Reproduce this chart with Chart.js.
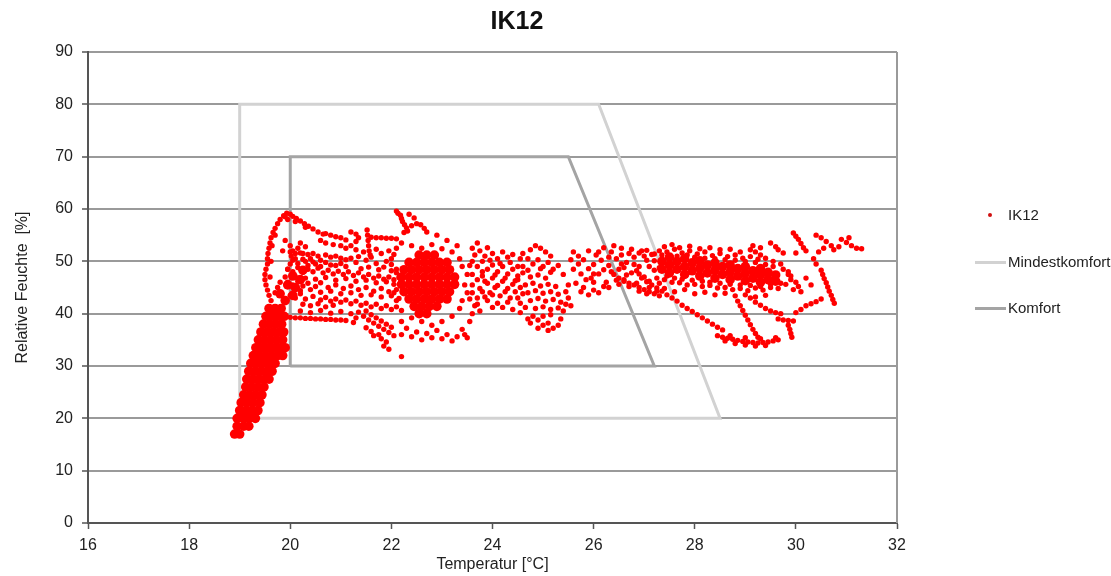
<!DOCTYPE html>
<html>
<head>
<meta charset="utf-8">
<title>IK12</title>
<script src="https://cdn.jsdelivr.net/npm/chart.js@4.4.1/dist/chart.umd.min.js"></script>
<style>
    body { margin: 0; background: #fff; }
    #wrap { position: relative; width: 1111px; height: 576px; }
    #chart { position: absolute; left: 0; top: 0; }
    .legend { position: absolute; left: 975px; top: 0; font: 15px "Liberation Sans", Arial, sans-serif; color: #222; }
    .legend .row { position: absolute; left: 0; height: 18px; width: 140px; }
    .legend .key { position: absolute; left: 0; top: 8px; width: 31px; height: 3px; }
    .legend .dot { position: absolute; left: 13px; top: 7px; width: 4px; height: 4px; border-radius: 2px; background: #d01010; }
    .legend .txt { position: absolute; left: 33px; top: 0; line-height: 18px; white-space: nowrap; }
</style>
</head>
<body>
<div id="wrap">
    <canvas id="chart" width="1111" height="576"></canvas>
    <div class="legend">
        <div class="row" style="top:206px"><span class="dot"></span><span class="txt">IK12</span></div>
        <div class="row" style="top:253px"><span class="key" style="background:#d2d2d2"></span><span class="txt">Mindestkomfort</span></div>
        <div class="row" style="top:299px"><span class="key" style="background:#a4a4a4"></span><span class="txt">Komfort</span></div>
    </div>
</div>
<script>
// comfort zones (temperature / relative humidity corners)
const mindestX = [19, 19, 26.1, 28.5, 19];
const mindestY = [20, 80, 80, 20, 20];
const komfortX = [20, 20, 25.5, 27.2, 20];
const komfortY = [30, 70, 70, 30, 30];

const xTicks = [16, 18, 20, 22, 24, 26, 28, 30, 32];
const yTicks = [0, 10, 20, 30, 40, 50, 60, 70, 80, 90];

// measured values, [temperature, humidity]
const loopPts = [
    [19.62,42.5],[19.58,43.5],[19.55,44.5],[19.52,45.5],[19.5,46.5],[19.5,47.5],[19.52,48.5],[19.55,49.5],
    [19.55,50.5],[19.56,51.5],[19.58,52.5],[19.6,53.5],[19.62,54.5],[19.66,55.5],[19.7,56.3],[19.75,57.2],
    [19.8,58],[19.87,58.7],[19.93,59.2],[20.0,59.0],[20.05,58.6],[20.12,58.2],[20.2,57.7],[20.28,57.2],
    [20.36,56.7],[20.45,56.2],[20.55,55.6],[20.65,55.2],[19.6,47],[19.62,50],[19.64,53],[19.7,55],
    [19.9,58.5],[19.95,58],[20.1,57.6],[20.3,56.5],[20.0,53],[20.05,52],[20.02,51],[20.1,50.5],
    [20.15,52.5],[20.2,53.5],[20.3,52.8],[20.25,51.5],[19.9,54],[19.85,52],[20.0,49.5],[19.95,48.5],
    [19.9,47],[19.8,46],[19.75,45],[19.7,44],[20.7,55.3],[20.8,55.0],[20.9,54.7],[21.0,54.5],
    [21.1,54.1],[20.6,54.0],[20.7,53.5],[20.85,53.2],[21.0,53.0],[21.2,55.6],[21.3,55.2],[21.35,54.5],
    [21.3,53.8],[21.6,54.6],[21.7,54.5],[21.8,54.5],[21.9,54.4],[22.0,54.4],[22.1,54.3],[21.52,56],
    [21.53,55],[21.54,54],[21.55,53],[21.56,52],[21.58,51.2],[22.1,59.6],[22.13,59.2],[22.18,58.8],
    [22.2,58.2],[22.22,57.6],[22.26,57],[22.3,56.4],[22.32,55.8],[22.25,55.5],[22.4,56.8],[22.5,57.2],
    [22.58,57],[22.65,56.3],[22.7,55.6],[22.35,59],[22.45,58.3]
];

const band20to22 = [
    [20.0,51.8],[20.1,51.5],[20.2,51.6],[20.35,51.3],[20.45,51.5],[20.55,51.0],[20.7,51.2],[20.8,50.8],
    [20.9,51.0],[21.0,50.6],[21.1,50.3],[20.4,50.5],[20.6,50.2],[20.3,50.0],[19.95,48.5],[20.05,48.0],
    [20.15,48.8],[20.25,47.9],[20.35,48.5],[20.45,48.0],[20.55,48.7],[20.65,47.8],[20.75,48.3],[20.85,47.6],
    [20.95,48.1],[21.05,47.5],[21.15,48.0],[21.25,47.3],[21.35,47.8],[21.45,47.0],[21.55,47.5],[21.65,46.8],
    [21.75,47.2],[21.85,46.6],[21.95,47.0],[22.05,46.5],[22.15,46.9],[19.95,46],[20.05,45.5],[20.15,46.2],
    [20.25,45.3],[20.35,45.8],[20.5,45.2],[20.6,45.9],[20.75,45.0],[20.9,45.5],[21.05,44.8],[21.2,45.3],
    [21.35,44.6],[21.5,45.0],[21.65,44.3],[21.8,44.8],[21.95,44.2],[22.1,44.6],[20.0,43.5],[20.1,43.0],
    [20.2,43.8],[20.3,42.8],[20.45,43.3],[20.6,42.6],[20.7,43.1],[20.8,42.4],[20.9,42.8],[21.0,42.2],
    [21.1,42.6],[21.2,41.9],[21.3,42.4],[21.4,41.6],[21.5,42.0],[21.6,41.3],[21.7,41.8],[21.8,41.0],
    [21.9,41.5],[22.0,40.8],[22.1,41.3],[22.2,40.6],[20.0,39.3],[20.1,39.2],[20.2,39.2],[20.3,39.1],
    [20.4,39.1],[20.5,39.0],[20.6,39.0],[20.7,38.9],[20.8,38.9],[20.9,38.8],[21.0,38.8],[21.1,38.7],
    [21.35,40.3],[21.45,39.5],[21.5,40.5],[21.55,38.8],[21.6,39.8],[21.65,38.2],[21.7,39.2],[21.75,37.6],
    [21.8,38.6],[21.85,37.0],[21.9,38.0],[21.95,36.4],[22.0,37.4],[21.75,36.0],[21.8,35.2],[21.9,34.6],
    [21.85,33.8],[21.95,33.2],[22.05,35.8],[22.2,31.8],[20.5,49.5],[20.8,49.3],[21.0,49.6],[21.3,49.8],
    [21.5,50.2],[21.7,49.6],[21.9,50.0],[22.0,49.4],[21.1,52.5],[21.2,53.0],[21.3,52.2],[21.45,51.8],
    [21.7,52.3],[21.8,51.5],[21.95,52.0],[22.05,51.3],
    [20.05,50.2],[20.15,49.6],[20.25,50.4],[20.35,49.2],[20.45,49.9],[20.6,49.0],[20.7,49.8],[20.9,49.2],
    [21.1,49.0],[21.2,50.6],[21.35,50.9],[21.4,48.6],[21.55,48.9],[21.6,50.8],[21.75,48.4],[21.85,48.9],
    [22.0,48.2],[22.1,47.8],[20.1,47.0],[20.3,46.8],[20.5,46.6],[20.7,46.9],[20.9,46.4],[21.1,46.7],
    [21.3,46.2],[21.5,46.4],[21.7,45.9],[21.9,46.1],[22.05,45.6],[20.2,44.4],[20.4,44.6],[20.6,44.1],
    [20.8,44.3],[21.0,43.8],[21.2,44.0],[21.4,43.5],[21.6,43.6],[21.8,43.2],[22.0,43.4],[22.15,42.9],
    [20.25,41.8],[20.4,41.5],[20.55,41.9],[20.7,41.3],[20.85,41.6],[20.2,40.5],[20.4,40.2],[20.6,40.6],
    [20.8,40.1],[21.0,40.4],[21.2,40.0],[21.3,39.2],[21.25,38.3],[21.5,37.3],[21.6,36.6],[21.65,35.8]
];

const cluster22to24 = [
    [22.0,50.5],[22.1,52.5],[22.2,53.5],[22.4,53.0],[22.6,52.5],[22.8,53.2],[23.0,52.4],[23.2,51.8],
    [23.35,50.5],[23.4,49.0],[23.5,47.5],[23.45,45.5],[23.5,44],[23.4,42.5],[23.35,41],[23.2,39.5],
    [23.0,38.5],[22.8,37.8],[22.6,38.5],[22.4,39.2],[22.2,38.5],[22.3,37.2],[22.5,36.5],[22.7,36.2],
    [22.9,36.8],[23.1,36.0],[23.3,35.6],[23.4,37.0],[22.1,42.5],[22.05,44],[22.1,48.5],[23.55,38.5],
    [23.6,40],[23.3,53],[23.1,54.0],[22.9,55.0],[23.6,52.5],[23.7,53.5],[23.75,52.0],[23.85,51.0],
    [23.9,52.6],[24.0,51.5],[24.1,50.5],[24.2,51.8],[24.3,50.8],[24.4,51.3],[23.6,50.0],[23.7,49.0],
    [23.8,50.0],[23.9,48.5],[24.0,49.3],[24.1,48.0],[24.2,49.0],[24.3,47.6],[24.4,48.5],[24.5,47.2],
    [23.6,47.5],[23.7,46.5],[23.8,47.2],[23.9,45.8],[24.0,46.8],[24.1,45.4],[24.2,46.2],[24.3,44.8],
    [24.4,45.6],[23.6,44.0],[23.7,43.0],[23.8,44.2],[23.9,42.5],[24.0,43.6],[24.1,42.0],[24.2,41.2],
    [23.65,41.5],[23.75,40.5],[24.55,50.5],[24.6,49.0],
    [23.55,49.2],[23.65,51.2],[23.8,48.0],[23.95,50.2],[24.05,47.4],[24.15,49.6],[24.25,46.8],[24.35,49.8],
    [24.45,46.3],[24.5,49.0],[23.6,45.5],[23.75,44.8],[23.85,46.2],[23.95,44.0],[24.05,45.0],[24.15,43.4],
    [24.25,44.2],[24.35,43.0],[24.45,44.2],[24.55,42.0],[24.6,47.8],[23.55,42.8],[23.7,41.8],[23.85,43.2],
    [24.0,41.2],[24.3,42.2],[24.4,40.8],[24.55,40.2],[24.65,41.2],[24.7,39.0],[24.75,38.2],[24.9,37.2],
    [25.1,36.8],[22.2,36.0],[22.4,35.6],[22.6,35.0],[22.8,35.4],[23.0,35.2],[23.2,34.8],[23.45,36.0],
    [23.5,35.4]
];

const cluster25 = [
    [24.6,51.5],[24.75,52.2],[24.85,53.0],[24.95,52.5],[25.05,51.8],[25.15,51.0],[24.7,50.5],[24.8,49.5],
    [24.9,50.3],[25.0,49.0],[25.1,49.8],[25.2,48.5],[25.3,49.2],[24.5,46.5],[24.55,45.0],[24.6,43.8],
    [24.5,43.0],[25.4,47.5],[25.5,45.5],[25.45,44.2],[25.5,43.0],[25.45,41.8],[25.4,40.5],[25.35,39.0],
    [25.3,37.8],[25.2,37.2],[25.1,38.2],[25.0,37.8],[24.9,38.8],[24.8,39.5],[25.55,41.5],[24.75,47],
    [24.9,47.4],[25.05,46.8],[24.65,45.5],[24.8,45.8],[24.95,45.3],[25.1,45.6],[25.25,45.2],[24.7,44],
    [24.85,44.4],[25.0,43.9],[25.15,44.2],[25.3,43.7],[24.75,42.5],[24.9,42.9],[25.05,42.4],[25.2,42.7],
    [25.35,42.2],[24.85,41],[25.0,41.3],[25.15,40.8],[25.3,41.1],[25.0,39.5],[25.15,39.8],[24.7,48.3],
    [24.95,48.6],[25.15,47.9]
];

const band25to27 = [
    [25.6,48.5],[25.7,49.5],[25.75,47.6],[25.8,50.3],[25.9,48.6],[25.95,46.8],[26.0,49.4],[26.05,51.2],
    [26.1,47.6],[26.15,50.2],[26.2,48.4],[26.25,46.0],[26.3,49.2],[26.35,51.8],[26.4,47.5],[26.45,50.5],
    [26.5,48.5],[26.55,52.5],[26.6,46.5],[26.65,49.8],[26.7,51.5],[26.75,47.8],[26.8,50.8],[26.85,45.8],
    [26.9,49.0],[26.95,52.0],[27.0,47.0],[27.05,50.2],[27.1,45.0],[27.15,51.3],[27.2,48.3],[27.25,44.3],
    [26.7,45.2],[26.9,44.3],[27.05,43.8],[26.5,45.6],[26.3,45.0],[25.65,45.8],[25.8,45.0],[26.0,44.5],
    [25.6,51.8],[25.9,52.0],[26.2,52.6],[26.4,53.0],[26.0,46.0],[26.5,46.8],[26.6,46.2],[26.7,45.8],
    [26.8,45.5],[26.9,45.0],[27.0,44.6],[27.1,44.2],[27.2,43.8],[27.3,43.4],[26.55,51.2],[26.75,52.3],
    [26.9,51.6],[27.05,52.1],[27.2,51.4],[26.35,48.0],[26.6,48.8],[26.85,48.2],[27.1,49.0],
    [25.55,50.3],[25.7,51.0],[25.85,46.5],[26.0,47.6],[26.1,51.8],[26.2,45.2],[26.3,50.8],[26.45,46.4],
    [26.55,49.5],[26.65,47.4],[26.8,49.4],[26.9,47.6],[27.0,51.0],[27.1,46.2],[27.2,50.1],[27.25,46.8],
    [27.3,48.8],[25.75,44.2],[25.9,43.6],[26.1,44.0]
];

const band27to30 = [
    [27.3,52.0],[27.45,51.8],[27.6,52.3],[27.75,51.6],[27.9,52.0],[28.05,51.4],[28.2,51.8],[28.35,51.1],
    [28.5,51.5],[28.65,50.9],[28.8,51.2],[28.95,50.6],[29.1,50.9],[29.25,50.4],[29.4,50.6],[29.55,50.0],
    [29.7,49.5],[27.4,46.5],[27.55,46.0],[27.7,45.9],[27.85,45.5],[28.0,45.6],[28.15,45.2],[28.3,45.4],
    [28.45,44.9],[28.6,45.0],[28.75,44.6],[28.9,44.8],[29.05,44.4],[29.2,44.9],[29.35,44.5],[29.5,45.0],
    [29.65,44.8],[29.8,45.6],[29.9,46.5],[29.85,47.5],[30.0,46.0],[30.05,45.2],
    [27.35,51.2],[27.45,47.2],[27.6,46.8],[27.65,51.0],[27.75,46.6],[27.85,51.2],[27.95,46.4],[28.0,50.8],
    [28.15,46.2],[28.2,50.6],[28.3,46.0],[28.4,50.5],[28.5,45.8],[28.6,50.3],[28.7,45.6],[28.8,50.2],
    [28.9,45.5],[29.0,50.0],[29.1,45.4],[29.2,49.8],[29.3,45.2],[29.4,49.4],[29.5,45.6],[29.55,49.0],
    [29.7,45.8],[29.75,48.5],[29.85,48.0],[29.9,47.2],[29.95,44.6],[30.1,44.2],[30.2,46.8],[30.3,45.5],
    [27.3,45.8],[27.4,44.8],[27.6,44.2],[27.8,44.6],[28.0,43.8],[28.2,44.1],[28.4,43.6],[28.6,43.9],
    [28.8,43.4],[29.0,43.6],[29.2,43.2],[29.4,43.5],[27.4,52.8],[27.55,53.2],[27.7,52.6],[27.9,52.9],
    [28.1,52.4],[28.3,52.6],[28.5,52.2],[28.7,52.3],[28.9,51.8],[29.15,53.0],[29.3,52.6]
];

const trailsRight = [
    [26.95,46.8],[27.05,46.1],[27.15,45.5],[27.25,44.9],[27.35,44.3],[27.45,43.6],[27.55,43.0],[27.65,42.4],
    [27.75,41.6],[27.85,41.0],[27.95,40.4],[28.05,39.8],[28.15,39.2],[28.25,38.6],[28.35,38.0],[28.45,37.4],
    [28.55,36.9],[28.45,35.8],[28.55,35.5],[28.65,35.3],[28.75,35.1],[28.85,34.9],[28.95,34.7],[29.05,34.6],
    [29.15,34.5],[29.25,34.4],[29.35,34.5],[29.45,34.6],[29.55,34.8],[29.65,35.0],[28.6,34.8],[28.8,34.3],
    [29.0,34.0],[29.2,33.8],[29.4,33.9],[28.7,35.8],[29.0,35.4],[29.3,35.2],[29.6,35.4],[28.85,42.4],
    [28.9,41.5],[28.95,40.6],[29.0,39.7],[29.05,38.8],[29.1,37.9],[29.15,37.0],[29.2,36.2],[29.25,35.5],
    [29.1,43.0],[29.2,42.2],[29.3,41.6],[29.4,41.0],[29.5,40.5],[29.6,40.2],[29.7,40.0],[29.65,39.0],
    [29.75,38.8],[29.85,38.7],[29.95,38.6],[29.85,37.8],[29.88,37.0],[29.9,36.2],[29.92,35.5],[30.0,40.2],
    [30.1,40.8],[30.2,41.5],[30.3,41.9],[30.4,42.3],[30.5,42.8],[30.5,48.3],[30.53,47.5],[30.56,46.7],
    [30.6,45.9],[30.63,45.1],[30.66,44.3],[30.7,43.5],[30.73,42.7],[30.76,42.0],[29.1,52.2],[29.2,51.8],
    [29.3,51.2],[29.5,53.5],[29.6,52.8],[29.65,52.2],[29.75,51.6],[29.95,55.4],[30.0,54.8],[30.05,54.2],
    [30.1,53.4],[30.15,52.6],[30.0,51.6],[30.2,52.0],[30.4,55.0],[30.5,54.5],[30.6,53.8],[30.7,53.0],
    [30.75,52.2],[30.55,52.5],[30.45,51.8],[30.9,54.2],[31.0,53.6],[31.1,53.0],[31.2,52.5],[31.3,52.4],
    [31.05,54.5],[30.85,52.8],[30.35,50.5],[30.4,49.5]
];

// tightly packed stretches of the series (dots merge into solid areas)
const denseLeft = [
    [18.9,17],[19.0,17],[18.95,18.5],[19.08,18.5],[19.18,18.5],[18.95,20],[19.07,20],[19.19,20],[19.31,20],
    [19.0,21.5],[19.12,21.5],[19.24,21.5],[19.36,21.5],[19.03,23],[19.15,23],[19.27,23],[19.4,23],
    [19.08,24.5],[19.2,24.5],[19.32,24.5],[19.44,24.5],[19.12,26],[19.24,26],[19.36,26],[19.48,26],
    [19.14,27.5],[19.26,27.5],[19.38,27.5],[19.5,27.5],[19.58,27.5],[19.18,29],[19.3,29],[19.42,29],
    [19.54,29],[19.64,29],[19.22,30.5],[19.34,30.5],[19.46,30.5],[19.58,30.5],[19.7,30.5],[19.27,32],
    [19.39,32],[19.51,32],[19.63,32],[19.75,32],[19.85,32],[19.32,33.5],[19.44,33.5],[19.56,33.5],
    [19.68,33.5],[19.8,33.5],[19.9,33.5],[19.37,35],[19.49,35],[19.61,35],[19.73,35],[19.85,35],
    [19.42,36.5],[19.54,36.5],[19.66,36.5],[19.78,36.5],[19.87,36.5],[19.47,38],[19.59,38],[19.71,38],
    [19.83,38],[19.52,39.5],[19.64,39.5],[19.76,39.5],[19.88,39.5],[19.58,41],[19.7,41],[19.82,41],
    [19.9,42.5],[20.05,43.5],[19.8,43.8],[20.1,45.0],[19.95,45.5],[20.2,46.5],[20.05,47.2],[20.25,48.3]
];

const denseCentre = [
    [22.55,51.2],[22.7,51.2],[22.85,51.2],
    [22.35,49.8],[22.5,49.8],[22.65,49.8],[22.8,49.8],[22.95,49.8],[23.1,49.8],
    [22.25,48.4],[22.4,48.4],[22.55,48.4],[22.7,48.4],[22.85,48.4],[23.0,48.4],[23.15,48.4],
    [22.2,47],[22.35,47],[22.5,47],[22.65,47],[22.8,47],[22.95,47],[23.1,47],[23.25,47],
    [22.2,45.6],[22.35,45.6],[22.5,45.6],[22.65,45.6],[22.8,45.6],[22.95,45.6],[23.1,45.6],[23.25,45.6],
    [22.25,44.2],[22.4,44.2],[22.55,44.2],[22.7,44.2],[22.85,44.2],[23.0,44.2],[23.15,44.2],
    [22.35,42.8],[22.5,42.8],[22.65,42.8],[22.8,42.8],[22.95,42.8],[23.1,42.8],
    [22.45,41.4],[22.6,41.4],[22.75,41.4],[22.9,41.4],[22.55,40],[22.7,40]
];

const denseRight = [
    [27.35,48.5],[27.35,50.0],[27.5,47.8],[27.5,49.3],[27.5,50.8],[27.65,48.5],[27.65,50.0],
    [27.8,47.5],[27.8,49.0],[27.8,50.5],[27.95,48.2],[27.95,49.7],[28.1,47.2],[28.1,48.7],[28.1,50.1],
    [28.25,47.8],[28.25,49.3],[28.4,46.8],[28.4,48.3],[28.4,49.7],[28.55,47.5],[28.55,49.0],
    [28.7,46.5],[28.7,48.0],[28.7,49.3],[28.85,47.2],[28.85,48.6],[29.0,46.3],[29.0,47.7],[29.0,49.0],
    [29.15,46.8],[29.15,48.2],[29.3,46.0],[29.3,47.4],[29.3,48.6],[29.45,46.5],[29.45,47.9],
    [29.6,46.2],[29.6,47.4]
];

const toXY = pts => pts.map(p => ({ x: p[0], y: p[1] }));
const zoneLine = (xs, ys) => xs.map((x, i) => ({ x: x, y: ys[i] }));

const measured = [].concat(loopPts, band20to22, cluster22to24, cluster25, band25to27, band27to30, trailsRight);
const dense = [].concat(denseLeft, denseCentre, denseRight);

const FONT = '"Liberation Sans", Arial, sans-serif';

// right-hand frame of the plot area
const frameRight = {
    id: 'frameRight',
    beforeDatasetsDraw(chart) {
        const a = chart.chartArea, ctx = chart.ctx;
        ctx.save();
        ctx.strokeStyle = '#9a9a9a';
        ctx.lineWidth = 2;
        ctx.beginPath();
        ctx.moveTo(a.right, a.top);
        ctx.lineTo(a.right, a.bottom);
        ctx.stroke();
        ctx.restore();
    }
};

new Chart(document.getElementById('chart'), {
    type: 'scatter',
    data: {
        datasets: [
            {
                label: 'IK12',
                data: toXY(measured),
                backgroundColor: '#ff0000',
                borderWidth: 0,
                pointRadius: 2.7,
                order: 0
            },
            {
                label: 'IK12 dicht',
                data: toXY(dense),
                backgroundColor: '#ff0000',
                borderWidth: 0,
                pointRadius: 4.8,
                order: 0
            },
            {
                label: 'Mindestkomfort',
                data: zoneLine(mindestX, mindestY),
                showLine: true,
                borderColor: '#d2d2d2',
                borderWidth: 3,
                pointRadius: 0,
                order: 2
            },
            {
                label: 'Komfort',
                data: zoneLine(komfortX, komfortY),
                showLine: true,
                borderColor: '#a4a4a4',
                borderWidth: 3,
                pointRadius: 0,
                order: 1
            }
        ]
    },
    options: {
        responsive: false,
        animation: false,
        layout: { padding: { left: 0, right: 77, top: 0, bottom: 0 } },
        plugins: {
            legend: { display: false },
            tooltip: { enabled: false },
            title: {
                display: true,
                text: 'IK12',
                color: '#111',
                font: { family: FONT, size: 25, weight: 'bold' },
                padding: { top: 7, bottom: 15 }
            }
        },
        scales: {
            x: {
                type: 'linear',
                min: 16,
                max: 32,
                afterBuildTicks: s => { s.ticks = xTicks.map(v => ({ value: v })); },
                afterFit: s => { s.height = 53; },
                ticks: { color: '#222', padding: 7, font: { family: FONT, size: 16 } },
                grid: { drawOnChartArea: false, tickLength: 6, tickColor: '#555', tickWidth: 1.5 },
                border: { color: '#555', width: 2 },
                title: {
                    display: true,
                    text: 'Temperatur [°C]',
                    color: '#222',
                    font: { family: FONT, size: 16 },
                    padding: { top: 0, bottom: 2 }
                }
            },
            y: {
                min: 0,
                max: 90,
                afterBuildTicks: s => { s.ticks = yTicks.map(v => ({ value: v })); },
                afterFit: s => { s.width = 88; },
                ticks: { color: '#222', padding: 9, font: { family: FONT, size: 16 } },
                grid: { color: '#9a9a9a', lineWidth: 2, tickLength: 6, tickColor: '#555', tickWidth: 1.5 },
                border: { color: '#555', width: 2 },
                title: {
                    display: true,
                    text: 'Relative Feuchte  [%]',
                    color: '#222',
                    font: { family: FONT, size: 16 },
                    padding: { top: 13, bottom: 0 }
                }
            },
            // empty right-hand strip that holds the legend column
            side: {
                position: 'right',
                display: true,
                afterFit: s => { s.width = 137; },
                ticks: { display: false },
                grid: { display: false },
                border: { display: false }
            }
        }
    },
    plugins: [frameRight]
});
</script>
</body>
</html>
